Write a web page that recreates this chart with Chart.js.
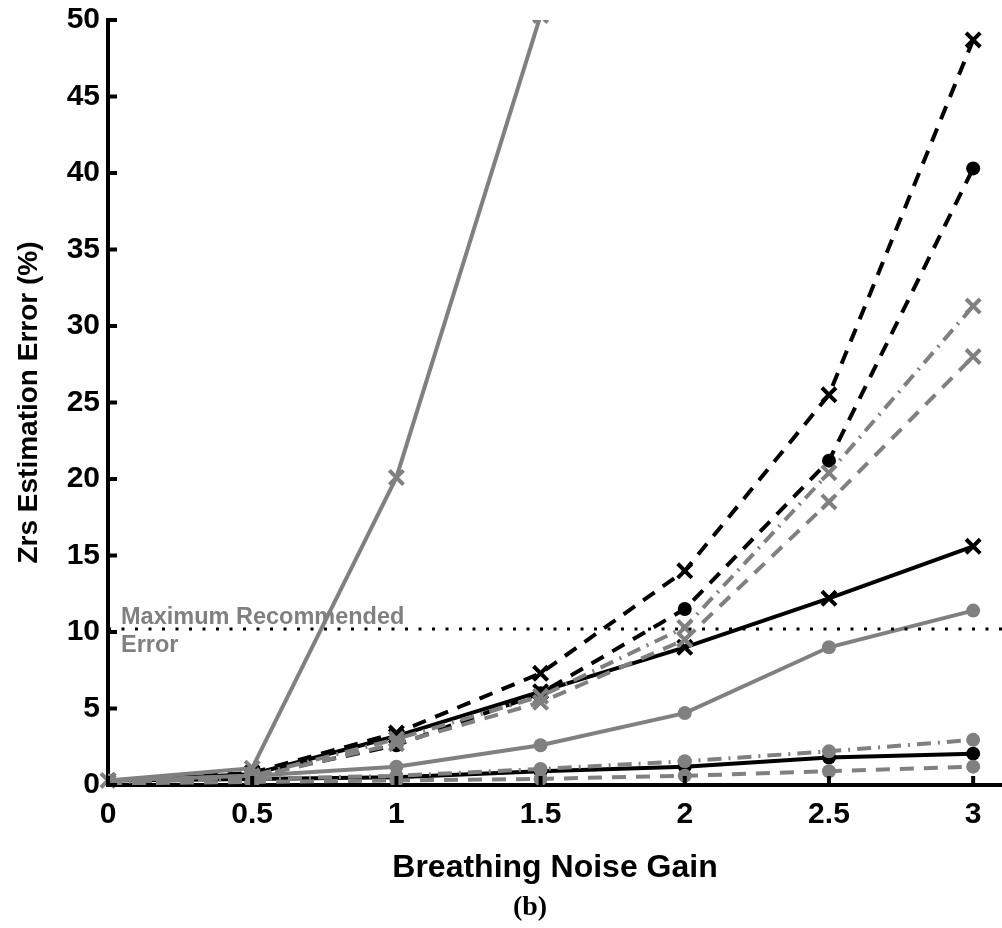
<!DOCTYPE html>
<html>
<head>
<meta charset="utf-8">
<script src="https://cdn.jsdelivr.net/npm/chart.js@4.4.1/dist/chart.umd.min.js"></script>
<style>
body { margin: 0; background: #fff; }
#wrap { position: relative; width: 1002px; height: 928px; }
#sub { position: absolute; left: 530px; top: 890px; transform: translateX(-50%); font: bold 28px "Liberation Serif", serif; color: #000; }
</style>
</head>
<body>
<div id="wrap">
<canvas id="chart" width="1002" height="928"></canvas>
<div id="sub">(b)</div>
</div>
<script>
// breathing noise gain values
const gains = [0, 0.5, 1, 1.5, 2, 2.5, 3];
const xTicks = [0, 0.5, 1, 1.5, 2, 2.5, 3];

// estimation error (%) per method
const blackDashX = [0.2, 0.8, 3.4, 7.3, 14.0, 25.5, 48.7];
const blackDashO = [0.2, 0.6, 2.6, 6.0, 11.5, 21.2, 40.3];
const grayDashDotX = [0.2, 0.6, 3.0, 5.8, 10.3, 20.4, 31.3];
const grayDashX = [0.2, 0.5, 2.7, 5.4, 9.5, 18.5, 28.0];
const blackSolidX = [0.3, 0.7, 3.2, 6.1, 9.0, 12.2, 15.6];
const graySolidX = [0.3, 1.1, 20.1, 50.3];
const graySolidO = [0.3, 0.6, 1.2, 2.6, 4.7, 9.0, 11.4];
const grayDashDotO = [0.2, 0.4, 0.6, 1.05, 1.55, 2.2, 2.95];
const blackSolidO = [0.3, 0.4, 0.5, 0.9, 1.2, 1.8, 2.05];
const grayDashO = [0.1, 0.2, 0.3, 0.4, 0.6, 0.9, 1.2];

const maxRecommended = 10.2;
const limitLabel = ['Maximum Recommended', 'Error'];

const BLACK = '#000000';
const GRAY = '#808080';
const DASH = [14, 10];
const DASH_DOT = [14, 7, 2, 7];

function toPoints(values) {
    return values.map((v, i) => ({ x: gains[i], y: v }));
}

function series(values, color, dash, marker) {
    const cross = marker === 'x';
    return {
        data: toPoints(values),
        borderColor: color,
        backgroundColor: color,
        borderWidth: 4,
        borderDash: dash,
        pointStyle: cross ? 'crossRot' : 'circle',
        pointRadius: cross ? 10 : 7,
        pointBorderWidth: cross ? 4 : 0,
        pointBorderColor: color,
        pointBackgroundColor: color,
        tension: 0,
    };
}

const limitLine = {
    data: [{ x: 0, y: maxRecommended }, { x: 3.1, y: maxRecommended }],
    borderColor: BLACK,
    borderWidth: 3,
    borderDash: [3, 10.5],
    pointRadius: 0,
};

const graySteep = series(graySolidX, GRAY, [], 'x');
graySteep.clip = { left: 12, top: 0, right: 12, bottom: 12 };

// draws the inward ticks and the limit label
const extras = {
    id: 'extras',
    afterDatasetsDraw(chart) {
        const { ctx } = chart;
        const xs = chart.scales.x;
        const ys = chart.scales.y;
        const x0 = xs.getPixelForValue(0);
        const y0 = ys.getPixelForValue(0);
        ctx.save();
        ctx.strokeStyle = BLACK;
        ctx.lineWidth = 4;
        ys.ticks.forEach(t => {
            const y = ys.getPixelForValue(t.value);
            ctx.beginPath();
            ctx.moveTo(x0, y);
            ctx.lineTo(x0 + 9, y);
            ctx.stroke();
        });
        xTicks.forEach(v => {
            const x = xs.getPixelForValue(v);
            ctx.beginPath();
            ctx.moveTo(x, y0);
            ctx.lineTo(x, y0 - 9);
            ctx.stroke();
        });
        const ly = ys.getPixelForValue(maxRecommended);
        ctx.fillStyle = GRAY;
        ctx.font = 'bold 23.5px "Liberation Sans", Arial, sans-serif';
        ctx.textBaseline = 'alphabetic';
        ctx.fillText(limitLabel[0], x0 + 13, ly - 5);
        ctx.fillText(limitLabel[1], x0 + 13, ly + 23);
        ctx.restore();
    },
};

const chart = new Chart(document.getElementById('chart'), {
    type: 'line',
    data: {
        datasets: [
            limitLine,
            graySteep,
            series(graySolidO, GRAY, [], 'o'),
            series(grayDashX, GRAY, DASH, 'x'),
            series(grayDashO, GRAY, DASH, 'o'),
            series(grayDashDotX, GRAY, DASH_DOT, 'x'),
            series(grayDashDotO, GRAY, DASH_DOT, 'o'),
            series(blackSolidX, BLACK, [], 'x'),
            series(blackSolidO, BLACK, [], 'o'),
            series(blackDashX, BLACK, DASH, 'x'),
            series(blackDashO, BLACK, DASH, 'o'),
        ],
    },
    options: {
        responsive: false,
        animation: false,
        events: [],
        layout: { autoPadding: false, padding: { top: 20, right: 0, bottom: 33, left: 0 } },
        plugins: {
            legend: { display: false },
            tooltip: { enabled: false },
        },
        scales: {
            x: {
                type: 'linear',
                min: 0,
                max: 3.1,
                afterBuildTicks: s => { s.ticks = xTicks.map(v => ({ value: v })); },
                afterFit: s => { s.height = 110; s.paddingLeft = 0; s.paddingRight = 0; },
                grid: { display: false, drawTicks: false },
                border: { display: true, color: BLACK, width: 4 },
                ticks: {
                    color: BLACK,
                    padding: 12,
                    maxRotation: 0,
                    font: { family: '"Liberation Sans", Arial, sans-serif', size: 30, weight: 'bold' },
                    callback: v => String(v),
                },
                title: {
                    display: true,
                    text: 'Breathing Noise Gain',
                    color: BLACK,
                    padding: { top: 0, bottom: 8 },
                    font: { family: '"Liberation Sans", Arial, sans-serif', size: 32, weight: 'bold' },
                },
            },
            y: {
                min: 0,
                max: 50,
                afterFit: s => { s.width = 108; s.paddingTop = 0; s.paddingBottom = 0; },
                grid: { display: false, drawTicks: false },
                border: { display: true, color: BLACK, width: 4 },
                ticks: {
                    stepSize: 5,
                    color: BLACK,
                    padding: 8,
                    font: { family: '"Liberation Sans", Arial, sans-serif', size: 30, weight: 'bold' },
                },
                title: {
                    display: true,
                    text: 'Zrs Estimation Error (%)',
                    color: BLACK,
                    padding: { top: 12, bottom: 0 },
                    font: { family: '"Liberation Sans", Arial, sans-serif', size: 28, weight: 'bold' },
                },
            },
        },
    },
    plugins: [extras],
});
</script>
</body>
</html>
